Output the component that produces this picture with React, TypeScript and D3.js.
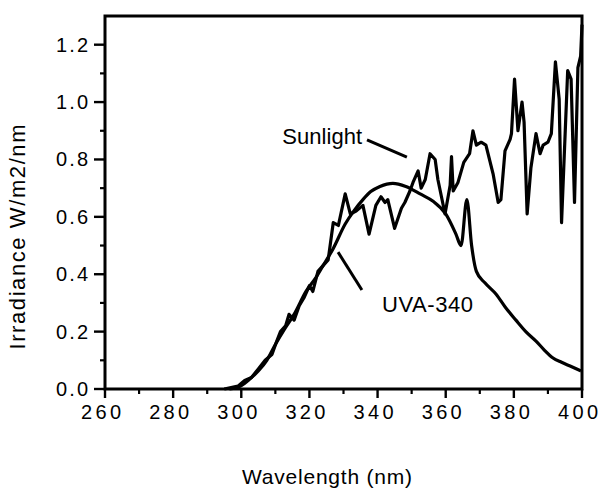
import React from 'react';
import * as d3 from 'd3';

// Sunlight spectrum (wavelength nm, irradiance W/m2/nm)
const sunWave = [
  295, 297, 299, 301, 303, 305, 307, 309, 310.5, 311.5, 313, 314, 315.5, 317, 318.5,
  320, 321, 322.5, 324, 325.5, 327, 328.5, 330.5, 332, 333.7, 335.7, 337.5, 339.5,
  341, 342.2, 343, 345, 347, 348, 349.5, 350.4, 351.9, 352.8, 354, 355.4, 356.9,
  357.7, 359.8, 361.3, 361.7, 362.2, 363.6, 365.3, 367, 368, 369, 370.4, 371.8,
  373.9, 375.4, 376.2, 377.4, 378.9, 379.3, 380.2, 381.2, 382.4, 383, 383.9, 385,
  386.5, 387.7, 388.6, 390, 391, 392.2, 393.3, 394, 395.8, 396.8, 397.8, 398.8,
  399.6, 400,
];
const sunValue = [
  0.0, 0.005, 0.01, 0.03, 0.04, 0.07, 0.1, 0.12, 0.17, 0.2, 0.22, 0.26, 0.24, 0.29, 0.32,
  0.36, 0.34, 0.41, 0.43, 0.45, 0.58, 0.57, 0.68, 0.61, 0.62, 0.64, 0.54, 0.64,
  0.67, 0.65, 0.66, 0.56, 0.63, 0.65, 0.69, 0.72, 0.76, 0.7, 0.73, 0.82, 0.8,
  0.73, 0.61, 0.71, 0.81, 0.69, 0.72, 0.79, 0.82, 0.9, 0.85, 0.86, 0.85,
  0.75, 0.65, 0.66, 0.83, 0.87, 0.89, 1.08, 0.9, 1.0, 0.93, 0.61, 0.77,
  0.89, 0.82, 0.85, 0.86, 0.89, 1.14, 1.01, 0.58, 1.11, 1.08, 0.65, 1.12,
  1.16, 1.27,
];

// UVA-340 lamp spectrum
const uvaWave = [
  296.5, 300, 302.5, 305, 307.5, 310, 312.5, 315.5, 319, 322, 324, 327, 330.5, 333,
  335.7, 338, 340.7, 344.5, 348.3, 352.5, 356.3, 360, 363, 364.5, 366.2, 367.6, 369,
  371.5, 374.8, 377.5, 380.6, 383.5, 386.5, 389, 391.5, 394, 396.5, 399.7,
];
const uvaValue = [
  0.0, 0.012, 0.035, 0.063, 0.1, 0.155, 0.205, 0.26, 0.34, 0.39, 0.43, 0.49, 0.575, 0.62,
  0.66, 0.688, 0.706, 0.717, 0.706, 0.68, 0.654, 0.61, 0.54, 0.5, 0.66, 0.5, 0.41,
  0.37, 0.33, 0.285, 0.24, 0.2, 0.167, 0.135, 0.108, 0.093, 0.08, 0.063,
];

const xTicks = [260, 280, 300, 320, 340, 360, 380, 400];
const xMinor = [270, 290, 310, 330, 350, 370, 390];
const yTicks = [0.0, 0.2, 0.4, 0.6, 0.8, 1.0, 1.2];
const yMinor = [0.1, 0.3, 0.5, 0.7, 0.9, 1.1];

const W = 600;
const H = 490;
const left = 105;
const right = 582;
const top = 16;
const bottom = 389;

const font = '"Liberation Sans", Arial, Helvetica, sans-serif';

export default function App() {
  const x = d3.scaleLinear().domain([260, 400]).range([left, right]);
  const y = d3.scaleLinear().domain([0, 1.3]).range([bottom, top]);

  const line = d3
    .line<[number, number]>()
    .x(d => x(d[0]))
    .y(d => y(d[1]))
    .curve(d3.curveLinear);

  const smooth = d3
    .line<[number, number]>()
    .x(d => x(d[0]))
    .y(d => y(d[1]))
    .curve(d3.curveMonotoneX);

  const sun = sunWave.map((w, i) => [w, sunValue[i]] as [number, number]);
  const uva = uvaWave.map((w, i) => [w, uvaValue[i]] as [number, number]);

  return (
    <svg
      width={W}
      height={H}
      style={{ position: 'absolute', left: 0, top: 0, background: '#fff' }}
      fontFamily={font}
    >
      {/* frame */}
      <rect
        x={left}
        y={top}
        width={right - left}
        height={bottom - top}
        fill="none"
        stroke="#000"
        strokeWidth={3}
      />

      {/* x ticks */}
      {xTicks.map(t => (
        <g key={'xt' + t}>
          <line x1={x(t)} x2={x(t)} y1={bottom} y2={bottom + 9} stroke="#000" strokeWidth={2.4} />
          <text x={x(t) - 4} y={419} fontSize={20} textAnchor="middle" textLength={40} fill="#000">
            {t}
          </text>
        </g>
      ))}
      {xMinor.map(t => (
        <line key={'xm' + t} x1={x(t)} x2={x(t)} y1={bottom} y2={bottom + 5} stroke="#000" strokeWidth={2.2} />
      ))}

      {/* y ticks */}
      {yTicks.map(t => (
        <g key={'yt' + t}>
          <line x1={left - 11} x2={left} y1={y(t)} y2={y(t)} stroke="#000" strokeWidth={2.4} />
          <text x={88} y={y(t) + 7} fontSize={20} textAnchor="end" textLength={32} fill="#000">
            {t.toFixed(1)}
          </text>
        </g>
      ))}
      {yMinor.map(t => (
        <line key={'ym' + t} x1={left - 5} x2={left} y1={y(t)} y2={y(t)} stroke="#000" strokeWidth={2.2} />
      ))}

      {/* series */}
      <path d={line(sun) || ''} fill="none" stroke="#000" strokeWidth={3.2} strokeLinejoin="round" />
      <path d={smooth(uva) || ''} fill="none" stroke="#000" strokeWidth={3.2} strokeLinejoin="round" />

      {/* annotations */}
      <text x={x(312)} y={y(0.854)} fontSize={22} textLength={80} fill="#000">
        Sunlight
      </text>
      <line x1={x(336.9)} y1={y(0.868)} x2={x(348.6)} y2={y(0.808)} stroke="#000" strokeWidth={3} />
      <line x1={x(328.4)} y1={y(0.477)} x2={x(335.4)} y2={y(0.345)} stroke="#000" strokeWidth={3} />
      <text x={x(341.3)} y={y(0.268)} fontSize={22} textLength={91} fill="#000">
        UVA-340
      </text>

      {/* axis titles */}
      <text x={327} y={484} fontSize={21} textAnchor="middle" textLength={170} fill="#000">
        Wavelength (nm)
      </text>
      <text
        transform="translate(25,237) rotate(-90)"
        fontSize={22}
        textAnchor="middle"
        textLength={225}
        fill="#000"
      >
        Irradiance  W/m2/nm
      </text>
    </svg>
  );
}
